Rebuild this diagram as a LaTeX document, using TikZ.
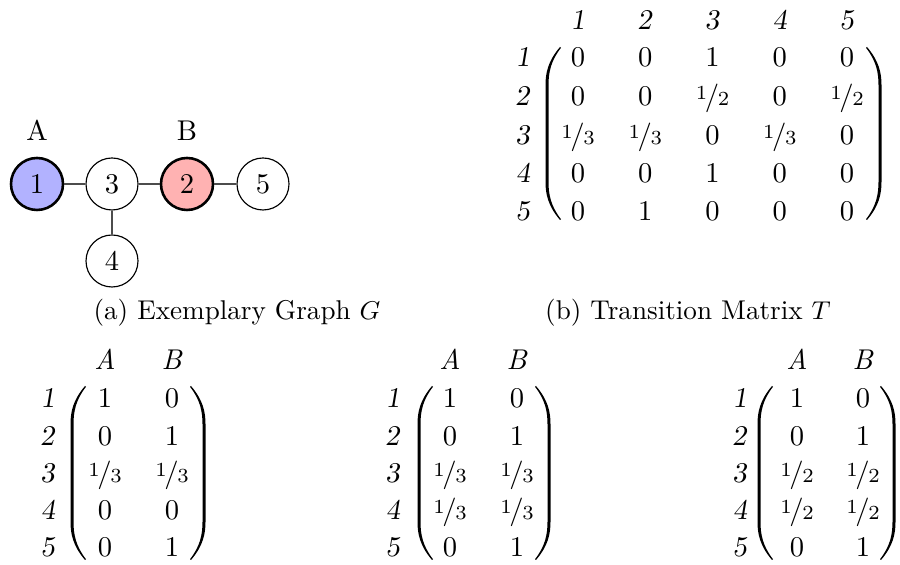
\documentclass[tikz,border=0pt]{standalone}
\newcommand\nfr[2]{\raisebox{.45ex}{\scriptsize#1}\kern-.08em/\kern-.05em{\scriptsize#2}}
\newcommand\fh{\nfr{1}{2}}
\newcommand\ft{\nfr{1}{3}}
% #1 stroke centre x, #2 top y, #3 bottom y, #4 direction (1 = left paren, -1 = right paren)
\newcommand\parenshape[4]{%
  \fill ({#1+(#4)*13},#2) .. controls ({#1+(#4)*1},{#2+14}) and ({#1-(#4)*1.5},{#2+26}) .. ({#1-(#4)*1.5},{#2+38})
    -- ({#1-(#4)*1.5},{#3-38}) .. controls ({#1-(#4)*1.5},{#3-26}) and ({#1+(#4)*1},{#3-14}) .. ({#1+(#4)*13},#3)
    -- ({#1+(#4)*14},{#3-0.8}) .. controls ({#1+(#4)*3.6},{#3-14}) and ({#1+(#4)*1.5},{#3-26}) .. ({#1+(#4)*1.5},{#3-38})
    -- ({#1+(#4)*1.5},{#2+38}) .. controls ({#1+(#4)*1.5},{#2+26}) and ({#1+(#4)*3.6},{#2+14}) .. ({#1+(#4)*14},{#2+0.8}) -- cycle;}
\begin{document}
\begin{tikzpicture}[x=0.35pt,y=-0.35pt,
  vtx/.style={circle,draw,line width=0.4pt,minimum size=18.2pt,inner sep=0pt},
  hub/.style={vtx,line width=0.9pt},
  edge/.style={draw=black!70,line width=0.6pt},
  ent/.style={inner sep=0pt,text height=6.44pt,text depth=0pt},
  captext/.style={inner sep=0pt,anchor=base,font=\fontsize{9.5}{11}\selectfont}]
\useasboundingbox (0,0) rectangle (900,565);
% graph
\node[hub,fill=blue!30] (v1) at (37,184) {1};
\node[vtx] (v3) at (112,184) {3};
\node[hub,fill=red!30] (v2) at (187,184) {2};
\node[vtx] (v5) at (263,184) {5};
\node[vtx] (v4) at (112,261) {4};
\node[ent] (la) at (37,131) {A};
\node[ent] (lb) at (187,131) {B};
\draw[edge] (v1) -- (v3);
\draw[edge] (v3) -- (v2);
\draw[edge] (v2) -- (v5);
\draw[edge] (v3) -- (v4);
% captions
\node[captext] (capa) at (237,320) {(a) Exemplary Graph $G$};
\node[captext] (capb) at (688,320) {(b) Transition Matrix $T$};
% transition matrix
\foreach \c in {1,...,5} \node[ent] (th\c) at ({578+(\c-1)*67.25},20) {\textsl{\c}};
\foreach \r/\y/\row in {1/57/{0,0,1,0,0},2/96/{0,0,\fh,0,\fh},3/135/{\ft,\ft,0,\ft,0},4/173/{0,0,1,0,0},5/211/{0,1,0,0,0}}{
  \node[ent] (tr\r) at (523,\y) {\textsl{\r}};
  \foreach \v [count=\c] in \row \node[ent] (t\r\c) at ({578+(\c-1)*67.25},\y) {\v};
}
\parenshape{547}{47}{220}{1}
\parenshape{880}{47}{220}{-1}
% matrix 1
\node[ent] (pha) at (105,360) {\textit{A}};
\node[ent] (phb) at (172,360) {\textit{B}};
\foreach \r/\y/\a/\b in {1/398/1/0,2/436/0/1,3/473/\ft/\ft,4/510/0/0,5/547/0/1}{
  \node[ent] (pr\r) at (48,\y) {\textsl{\r}};
  \node[ent] (p\r a) at (105,\y) {\a};
  \node[ent] (p\r b) at (172,\y) {\b};
}
\parenshape{72}{386}{560}{1}
\parenshape{204}{386}{560}{-1}
% matrix 2
\node[ent] (qha) at (450,360) {\textit{A}};
\node[ent] (qhb) at (517,360) {\textit{B}};
\foreach \r/\y/\a/\b in {1/398/1/0,2/436/0/1,3/473/\ft/\ft,4/510/\ft/\ft,5/547/0/1}{
  \node[ent] (qr\r) at (393,\y) {\textsl{\r}};
  \node[ent] (q\r a) at (450,\y) {\a};
  \node[ent] (q\r b) at (517,\y) {\b};
}
\parenshape{419}{386}{560}{1}
\parenshape{549}{386}{560}{-1}
% matrix 3
\node[ent] (sha) at (797,360) {\textit{A}};
\node[ent] (shb) at (863,360) {\textit{B}};
\foreach \r/\y/\a/\b in {1/398/1/0,2/436/0/1,3/473/\fh/\fh,4/510/\fh/\fh,5/547/0/1}{
  \node[ent] (sr\r) at (740,\y) {\textsl{\r}};
  \node[ent] (s\r a) at (797,\y) {\a};
  \node[ent] (s\r b) at (863,\y) {\b};
}
\parenshape{759}{386}{560}{1}
\parenshape{894}{386}{560}{-1}
\end{tikzpicture}
\end{document}
